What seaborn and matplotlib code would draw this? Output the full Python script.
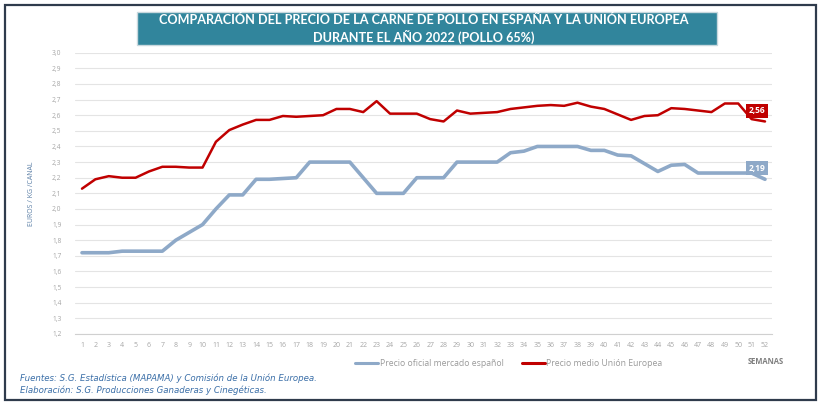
import matplotlib
matplotlib.use("Agg")
import matplotlib.pyplot as plt
import matplotlib.patches as mpatches
from matplotlib.ticker import FuncFormatter, MultipleLocator
import seaborn as sns
import numpy as np
import pandas as pd

# ── Data (EUR / kg canal, weekly 2022) ───────────────────────────────────────
weeks = list(range(1, 53))
spain = [1.72, 1.72, 1.72, 1.73, 1.73, 1.73, 1.73, 1.80, 1.85, 1.90,
         2.00, 2.09, 2.09, 2.19, 2.19, 2.195, 2.20, 2.30, 2.30, 2.30,
         2.30, 2.20, 2.10, 2.10, 2.10, 2.20, 2.20, 2.20, 2.30, 2.30,
         2.30, 2.30, 2.36, 2.37, 2.40, 2.40, 2.40, 2.40, 2.375, 2.375,
         2.345, 2.34, 2.29, 2.24, 2.28, 2.285, 2.23, 2.23, 2.23, 2.23,
         2.23, 2.19]
eu = [2.13, 2.19, 2.21, 2.20, 2.20, 2.24, 2.27, 2.27, 2.265, 2.265,
      2.43, 2.505, 2.54, 2.57, 2.57, 2.595, 2.59, 2.595, 2.60, 2.64,
      2.64, 2.62, 2.69, 2.61, 2.61, 2.61, 2.575, 2.56, 2.63, 2.61,
      2.615, 2.62, 2.64, 2.65, 2.66, 2.665, 2.66, 2.68, 2.655, 2.64,
      2.605, 2.57, 2.595, 2.60, 2.645, 2.64, 2.63, 2.62, 2.675, 2.675,
      2.575, 2.56]
series_names = ["Precio oficial mercado español", "Precio medio Unión Europea"]

BLUE = "#8EA9C8"
RED = "#C00000"
TEAL = "#31859C"
GRID = "#E4E4E4"
TICK = "#A6A6A6"

df = pd.DataFrame({
    "semana": weeks * 2,
    "precio": spain + eu,
    "serie": [series_names[0]] * len(weeks) + [series_names[1]] * len(weeks),
})

sns.set_style("white")
plt.rcParams["font.family"] = ["Open Sans", "DejaVu Sans"]

fig = plt.figure(figsize=(8.25, 4.05), dpi=100, facecolor="white")

# outer frame
fig.patches.append(mpatches.Rectangle(
    (5 / 825, 1 - 400 / 405), 811 / 825, 395 / 405, transform=fig.transFigure,
    fill=False, edgecolor="#2F3B4C", linewidth=1.6, zorder=0))

ax = fig.add_axes([75.3 / 825, 1 - 334 / 405, 696.4 / 825, 281.3 / 405])
sns.lineplot(data=df, x="semana", y="precio", hue="serie", ax=ax,
             palette={series_names[0]: BLUE, series_names[1]: RED},
             linewidth=2.2, legend=False)
ax.lines[0].set_linewidth(2.6)
ax.lines[1].set_linewidth(1.8)

ax.set_xlim(0.5, 52.5)
ax.set_ylim(1.2, 3.0)
ax.yaxis.set_major_locator(MultipleLocator(0.1))
ax.yaxis.set_major_formatter(FuncFormatter(lambda v, p: f"{v:.1f}".replace(".", ",")))
ax.set_xticks(weeks)
ax.set_xticklabels([str(w) for w in weeks])
ax.tick_params(axis="y", length=0, labelsize=4.8, labelcolor=TICK, pad=10)
ax.tick_params(axis="x", length=2, color="#D0D0D0", labelsize=5,
               labelcolor=TICK, pad=4)
ax.grid(axis="y", color=GRID, linewidth=0.8)
ax.set_axisbelow(True)
for s in ["top", "right", "left"]:
    ax.spines[s].set_visible(False)
ax.spines["bottom"].set_color("#D0D0D0")
ax.spines["bottom"].set_linestyle((0, (2, 1)))
ax.set_xlabel("")
ax.set_ylabel("EUROS / KG /CANAL", fontsize=5, color="#5B7FA6", labelpad=12)

# end labels
ax.text(weeks[-1] - 0.6, eu[-1] + 0.07, f"{eu[-1]:.2f}".replace(".", ","),
        ha="center", va="center", fontsize=6, color="white", fontweight="bold",
        bbox=dict(boxstyle="square,pad=0.3", fc=RED, ec="none"))
ax.text(weeks[-1] - 0.6, spain[-1] + 0.07, f"{spain[-1]:.2f}".replace(".", ","),
        ha="center", va="center", fontsize=6, color="white", fontweight="bold",
        bbox=dict(boxstyle="square,pad=0.3", fc=BLUE, ec="none"))

# title box
fig.patches.append(mpatches.Rectangle(
    (137 / 825, 1 - 45 / 405), 580 / 825, 33 / 405, transform=fig.transFigure,
    facecolor=TEAL, edgecolor="#C8D8DE", linewidth=1.0, zorder=1))
fig.text(424 / 825, 1 - 28.5 / 405,
         "COMPARACIÓN DEL PRECIO DE LA CARNE DE POLLO EN ESPAÑA Y LA UNIÓN EUROPEA\n"
         "DURANTE EL AÑO 2022 (POLLO 65%)",
         ha="center", va="center", color="white", fontsize=9.1, fontweight="bold",
         linespacing=1.3, family=["Lato", "DejaVu Sans"], zorder=2)

# legend
handles = [plt.Line2D([], [], color=BLUE, lw=2.2), plt.Line2D([], [], color=RED, lw=2.2)]
fig.legend(handles, series_names, loc="center", bbox_to_anchor=(509 / 825, 1 - 364 / 405),
           ncol=2, frameon=False, fontsize=6.2, labelcolor="#9A9A9A",
           handlelength=2.6, handletextpad=0.2, columnspacing=2.2)
fig.text(766 / 825, 1 - 362 / 405, "SEMANAS", ha="center", va="center",
         fontsize=5.5, fontweight="bold", color="#7F7F7F")

# sources
fig.text(20 / 825, 1 - 378 / 405,
         "Fuentes: S.G. Estadística (MAPAMA) y Comisión de la Unión Europea.",
         fontsize=6.2, style="italic", color="#3B6FA8", va="center",
         family=["DejaVu Sans"])
fig.text(20 / 825, 1 - 390 / 405,
         "Elaboración: S.G. Producciones Ganaderas y Cinegéticas.",
         fontsize=6.2, style="italic", color="#3B6FA8", va="center",
         family=["DejaVu Sans"])

fig.savefig("out.png", dpi=100, facecolor="white")
